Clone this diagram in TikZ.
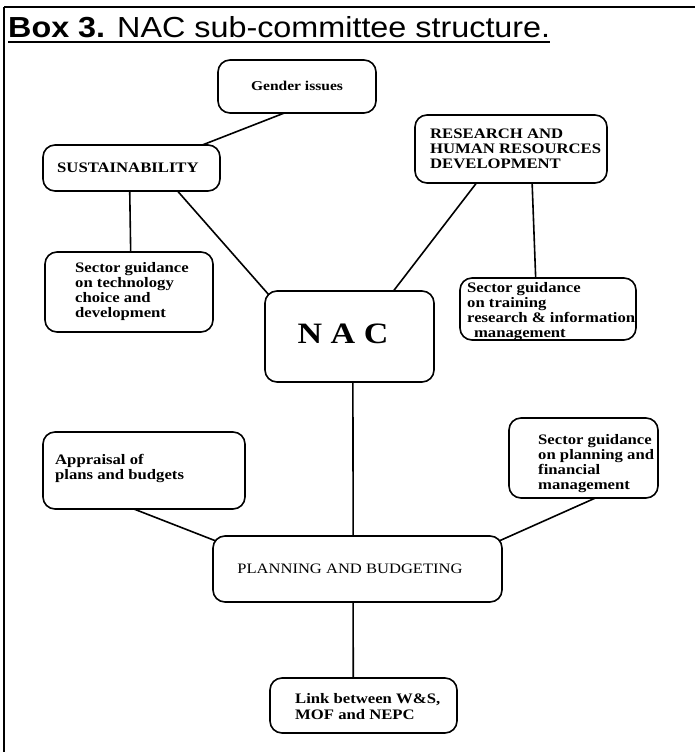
\documentclass[tikz,border=0pt]{standalone}
\usepackage{fontspec}
\setmainfont{Liberation Serif}
\newfontfamily\titlefont{Liberation Sans}
\usetikzlibrary{calc}
\newcommand{\hs}[1]{\scalebox{1.15}[1]{#1}}
\begin{document}
\begin{tikzpicture}[x=1pt,y=-1pt,
  box/.style={draw, line width=1.6pt, rounded corners=12pt, inner sep=0pt, outer sep=0pt, anchor=north west},
  conn/.style={line width=1.6pt},
  txt/.style={inner sep=0pt, anchor=base west, font=\fontsize{14.5}{15}\selectfont\bfseries},
]
\useasboundingbox (0,0) rectangle (695,755);

% frame
\draw[line width=2pt] (4,7) -- (695,7);
\draw[line width=2.5pt] (4,7) -- (4,752);

% title
\node[inner sep=0pt, anchor=base west] (title) at (8,37)
  {\scalebox{1.115}[1]{\titlefont\fontsize{29}{32}\selectfont\textbf{Box 3.} NAC sub-committee structure.}};
\draw[line width=2pt] ($(title.base west)+(0,4.5)$) -- ($(title.base east)+(0,4.5)$);

% boxes
\node[box, minimum width=158pt, minimum height=53pt] (gender) at (218,60) {};
\node[box, minimum width=177pt, minimum height=46pt] (sust) at (43,145) {};
\node[box, minimum width=168pt, minimum height=80pt] (tech) at (45,252) {};
\node[box, minimum width=192pt, minimum height=68pt] (res) at (415,115) {};
\node[box, minimum width=176pt, minimum height=62pt] (train) at (460,278) {};
\node[box, minimum width=169pt, minimum height=91pt] (nac) at (265,291) {};
\node[box, minimum width=202pt, minimum height=77pt] (appr) at (43,432) {};
\node[box, minimum width=149pt, minimum height=80pt] (fin) at (509,418) {};
\node[box, minimum width=289pt, minimum height=66pt] (plan) at (213,536) {};
\node[box, minimum width=187pt, minimum height=55pt] (link) at (270,678) {};

% texts
\node[inner sep=0pt, anchor=base, font=\fontsize{13.5}{14}\selectfont\bfseries] (gendert) at (297,90) {\hs{Gender issues}};
\node[txt] (sustt) at (57,172) {\hs{SUSTAINABILITY}};
\node[txt] (techt) at (75,272) {\hs{\begin{tabular}[t]{@{}l@{}}Sector guidance\\on technology\\choice and\\development\end{tabular}}};
\node[txt] (rest) at (430,138) {\hs{\begin{tabular}[t]{@{}l@{}}RESEARCH AND\\HUMAN RESOURCES\\DEVELOPMENT\end{tabular}}};
\node[txt] (traint) at (467,292) {\hs{\begin{tabular}[t]{@{}l@{}}Sector guidance\\on training\\research \& information\\\hspace{6pt}management\end{tabular}}};
\node[inner sep=0pt, anchor=base, font=\fontsize{29.6}{30}\selectfont\bfseries] (nact) at (343,343) {\hs{N A C}};
\node[txt] (apprt) at (55,464) {\hs{\begin{tabular}[t]{@{}l@{}}Appraisal of\\plans and budgets\end{tabular}}};
\node[txt] (fint) at (538,444) {\hs{\begin{tabular}[t]{@{}l@{}}Sector guidance\\on planning and\\financial\\management\end{tabular}}};
\node[inner sep=0pt, anchor=base, font=\fontsize{14.4}{15}\selectfont] (plant) at (350,573) {\hs{PLANNING AND BUDGETING}};
\node[txt, font=\fontsize{14.5}{16}\selectfont\bfseries] (linkt) at (295,703) {\hs{\begin{tabular}[t]{@{}l@{}}Link between W\&S,\\MOF and NEPC\end{tabular}}};

% connectors
\draw[conn] ($(gender.south west)!0.42!(gender.south east)$) -- ($(sust.north west)!0.9!(sust.north east)$);
\draw[conn] ($(sust.south west)!0.49!(sust.south east)$) -- ($(tech.north west)!0.51!(tech.north east)$);
\draw[conn] ($(sust.south west)!0.76!(sust.south east)$) -- ($(nac.north west)+(4,4)$);
\draw[conn] ($(res.south west)!0.32!(res.south east)$) -- ($(nac.north west)!0.76!(nac.north east)$);
\draw[conn] ($(res.south west)!0.61!(res.south east)$) -- ($(train.north west)!0.43!(train.north east)$);
\draw[conn] ($(nac.south west)!0.52!(nac.south east)$) -- ($(plan.north west)!0.485!(plan.north east)$);
\draw[conn] ($(appr.south west)!0.45!(appr.south east)$) -- ($(plan.north west)+(3,5)$);
\draw[conn] ($(fin.south west)!0.58!(fin.south east)$) -- ($(plan.north east)+(-3,5)$);
\draw[conn] ($(plan.south west)!0.485!(plan.south east)$) -- ($(link.north west)!0.445!(link.north east)$);
\end{tikzpicture}
\end{document}
